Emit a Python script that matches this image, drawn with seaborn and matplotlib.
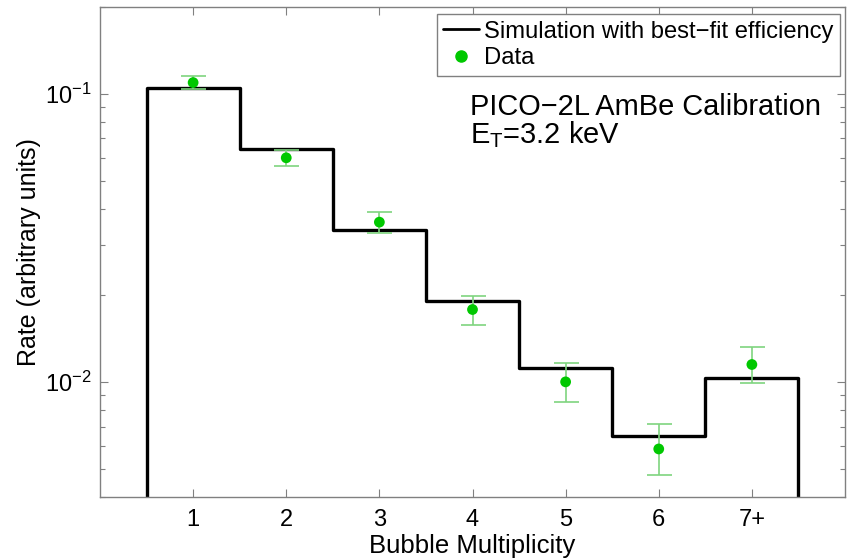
import numpy as np
import pandas as pd
import matplotlib
matplotlib.use("Agg")
import matplotlib.pyplot as plt
from matplotlib.lines import Line2D
from matplotlib.ticker import LogLocator, FixedLocator
import seaborn as sns

# ---- data ----
multiplicity = [1, 2, 3, 4, 5, 6, 7]
tick_labels = ["1", "2", "3", "4", "5", "6", "7+"]
sim_rate = [0.1051, 0.0645, 0.0338, 0.0192, 0.01122, 0.00653, 0.01033]
data_rate = [0.1094, 0.0600, 0.0359, 0.01787, 0.01003, 0.00587, 0.01152]
data_err_low = [0.1043, 0.0561, 0.0330, 0.01581, 0.00855, 0.00476, 0.00990]
data_err_high = [0.1152, 0.0639, 0.0390, 0.01998, 0.01165, 0.00716, 0.01327]

sns.set_style("white")
plt.rcParams["font.family"] = ["Liberation Sans", "DejaVu Sans"]
plt.rcParams["mathtext.fontset"] = "custom"
plt.rcParams["mathtext.rm"] = "Liberation Sans"
plt.rcParams["mathtext.it"] = "Liberation Sans:italic"
plt.rcParams["text.color"] = "black"
plt.rcParams["axes.labelcolor"] = "black"
plt.rcParams["xtick.labelcolor"] = "black"
plt.rcParams["ytick.labelcolor"] = "black"

green = "#00c800"
err_green = "#7fd47f"
gray = "#808080"

fig = plt.figure(figsize=(8.58, 5.59), dpi=100)
ax = fig.add_axes([100 / 858, 1 - 497 / 559, 745 / 858, 490 / 559])
ax.set_yscale("log")
ax.set_xlim(0, 8)
ax.set_ylim(0.004, 0.2)

df = pd.DataFrame({"m": multiplicity, "sim": sim_rate, "data": data_rate,
                   "lo": data_err_low, "hi": data_err_high})

lo_edge = min(multiplicity) - 0.5
hi_edge = max(multiplicity) + 0.5
sns.histplot(data=df, x="m", weights="sim", binwidth=1,
             binrange=(lo_edge, hi_edge),
             element="step", fill=False, color="black", linewidth=2.4, ax=ax)
# outer vertical edges of the step histogram down to the axis floor
ax.vlines([lo_edge, hi_edge], ax.get_ylim()[0], [sim_rate[0], sim_rate[-1]],
          color="black", linewidth=2.4)

yerr = np.vstack([df["data"] - df["lo"], df["hi"] - df["data"]])
ax.errorbar(df["m"], df["data"], yerr=yerr, fmt="none", ecolor=err_green,
            elinewidth=1.2, capsize=9, capthick=1.2, zorder=3)
sns.scatterplot(data=df, x="m", y="data", color=green, s=60, edgecolor="none",
                zorder=4, ax=ax)

ax.set_xlim(0, 8)
ax.set_ylim(0.004, 0.2)
ax.xaxis.set_major_locator(FixedLocator(multiplicity))
ax.set_xticklabels(tick_labels, fontsize=17)
ax.yaxis.set_major_locator(LogLocator(base=10, numticks=10))
ax.yaxis.set_minor_locator(LogLocator(base=10, subs=np.arange(2, 10), numticks=20))
ax.tick_params(axis="y", which="major", labelsize=17, pad=6)
ax.tick_params(axis="x", which="major", pad=9)
ax.tick_params(which="both", direction="in", top=True, right=True,
               bottom=True, left=True, color=gray)
ax.tick_params(which="major", length=6, width=0.8)
ax.tick_params(which="minor", length=3.5, width=0.8)
ax.tick_params(axis="x", which="minor", bottom=False, top=False)
for s in ax.spines.values():
    s.set_color(gray)
    s.set_linewidth(1.0)

ax.set_xlabel("Bubble Multiplicity", fontsize=18.5, labelpad=2)
ax.set_ylabel("Rate (arbitrary units)", fontsize=18, labelpad=3)

handles = [Line2D([], [], color="black", lw=2),
           Line2D([], [], color=green, marker="o", ls="none", markersize=8)]
leg = ax.legend(handles, ["Simulation with best\u2212fit efficiency", "Data"],
                loc="upper right", bbox_to_anchor=(0.9933, 0.9857), borderaxespad=0,
                fontsize=17.15, frameon=True, fancybox=False, framealpha=1,
                edgecolor=gray, borderpad=0.28, handlelength=1.5,
                handletextpad=0.2, labelspacing=0.2)
leg.get_frame().set_linewidth(1.0)

ax.text(0.4966, 0.780, "PICO\u22122L AmBe Calibration", transform=ax.transAxes,
        fontsize=20.9, va="baseline", ha="left")
ax.text(0.4966, 0.722, r"E$_\mathregular{T}$=3.2 keV", transform=ax.transAxes,
        fontsize=20.9, va="baseline", ha="left")

fig.savefig("out.png", dpi=100)
